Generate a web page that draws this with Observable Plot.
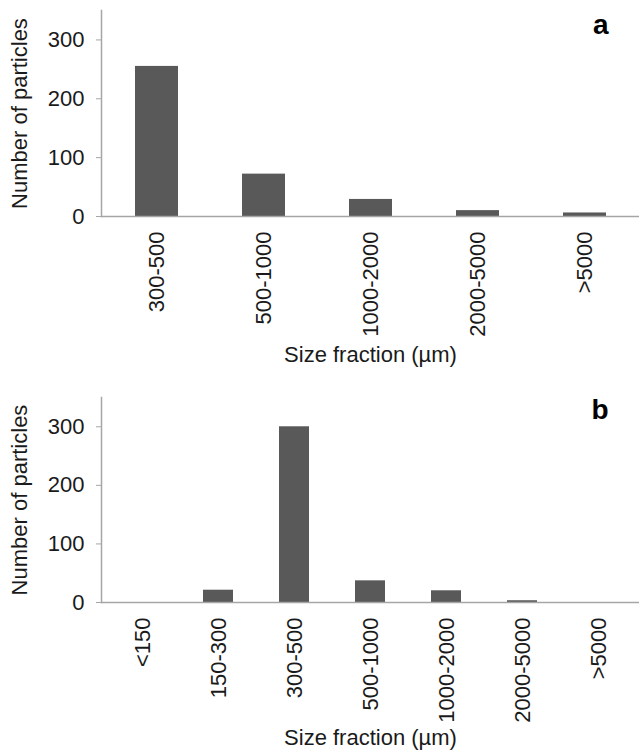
<!DOCTYPE html>
<html>
<head>
<meta charset="utf-8">
<script src="https://cdn.jsdelivr.net/npm/d3@7"></script>
<script src="https://cdn.jsdelivr.net/npm/@observablehq/plot@0.6"></script>
<style>
  html, body { margin: 0; padding: 0; background: #fff; }
  #chart { width: 639px; }
  #chart svg { display: block; }
</style>
</head>
<body>
<div id="chart"></div>
<script>
const catsA = ["300-500", "500-1000", "1000-2000", "2000-5000", ">5000"];
const valsA = [255, 72, 29, 10, 6];
const catsB = ["<150", "150-300", "300-500", "500-1000", "1000-2000", "2000-5000", ">5000"];
const valsB = [0, 21, 300, 37, 20, 3, 0];
const yTicks = [0, 100, 200, 300];
const xTitle = "Size fraction (µm)";
const yTitle = "Number of particles";

const BAR = "#595959";
const AXIS = "#a6a6a6";
const TEXT = "#1a1a1a";

function panel(cats, vals, letter, o) {
  const data = cats.map((c, i) => ({c, v: vals[i]}));
  return Plot.plot({
    width: 639,
    height: o.height,
    marginLeft: 101,
    marginRight: 0,
    marginTop: o.mt,
    marginBottom: o.mb,
    style: {fontFamily: "'Liberation Sans', Arial, sans-serif", fontSize: "22px", color: TEXT, background: "#fff", overflow: "visible"},
    x: {domain: cats, paddingInner: 0.6, paddingOuter: 0.3, label: null},
    y: {domain: [0, 350], label: null},
    marks: [
      Plot.barY(data, {x: "c", y: "v", fill: BAR}),
      Plot.ruleY([0], {stroke: AXIS, strokeWidth: 1.5}),
      Plot.frame({anchor: "left", stroke: AXIS, strokeWidth: 1.5}),
      Plot.axisY(yTicks, {anchor: "left", tickSize: 5, tickPadding: 12, stroke: AXIS, fill: TEXT, fontSize: 22,
        label: yTitle, labelAnchor: "center", labelOffset: 90, labelArrow: "none"}),
      Plot.axisX({anchor: "bottom", tickRotate: -90, tickSize: 0, tickPadding: 15, fill: TEXT, fontSize: 22,
        label: xTitle, labelAnchor: "center", labelOffset: o.lo, labelArrow: "none"}),
      Plot.text([letter], {frameAnchor: "top-right", dx: -31, dy: o.ldy, lineAnchor: "top", fontSize: 28, fontWeight: "bold", fill: "#000"})
    ]
  });
}

const el = document.getElementById("chart");
el.append(panel(catsA, valsA, "a", {height: 375, mt: 10, mb: 159, lo: 145, ldy: 3.5}));
el.append(panel(catsB, valsB, "b", {height: 377, mt: 22, mb: 150, lo: 142, ldy: 2}));
</script>
</body>
</html>
